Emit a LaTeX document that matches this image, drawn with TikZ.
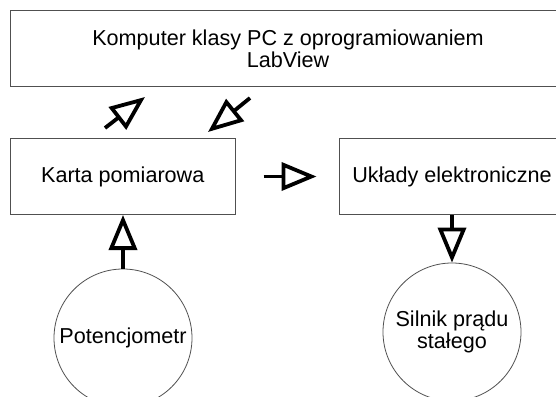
\documentclass[tikz,border=0pt]{standalone}
\usepackage{fontspec}
\setmainfont{Liberation Sans}
\usetikzlibrary{arrows.meta}
\definecolor{edgegray}{HTML}{505050}
\tikzset{
  boxnode/.style={draw=edgegray, line width=1pt, rectangle, inner sep=0pt, minimum height=76pt, align=center, font=\fontsize{21.6}{22}\selectfont},
  circnode/.style={draw=edgegray, line width=0.8pt, circle, inner sep=0pt, minimum size=138pt, align=center, font=\fontsize{21.6}{22}\selectfont},
  conn/.style={line width=3.8pt, -{Triangle[open, length=35pt, width=28pt, line width=3.8pt]}}
}
\begin{document}
\begin{tikzpicture}[x=1pt, y=-1pt]
\useasboundingbox (0,0) rectangle (556,396);
\clip (0,0) rectangle (556,396);
\fill[white] (0,0) rectangle (556,396);
\node[boxnode, minimum width=555pt] (pc) at (288,48.5) {Komputer klasy PC z oprogramiowaniem\\LabView};
\node[boxnode, minimum width=224.5pt] (karta) at (122.75,176.5) {Karta pomiarowa};
\node[boxnode, minimum width=226pt] (ukl) at (452,176.5) {Układy elektroniczne};
\node[circnode] (pot) at (123,338) {Potencjometr};
\node[circnode] (silnik) at (452,332) {Silnik prądu\\stałego};
\coordinate (up1s) at (105,128);
\coordinate (up1e) at (145,97);
\coordinate (dn1s) at (250,98);
\coordinate (dn1e) at (208,132);
\draw[conn] (pot.north) -- (pot.north |- karta.south);
\draw[conn] (ukl.south -| silnik.north) -- (silnik.north);
\draw[conn, shorten <=28pt, shorten >=22pt] (karta.east) -- (ukl.west);
\draw[conn] (up1s) -- (up1e);
\draw[conn] (dn1s) -- (dn1e);
\end{tikzpicture}
\end{document}
